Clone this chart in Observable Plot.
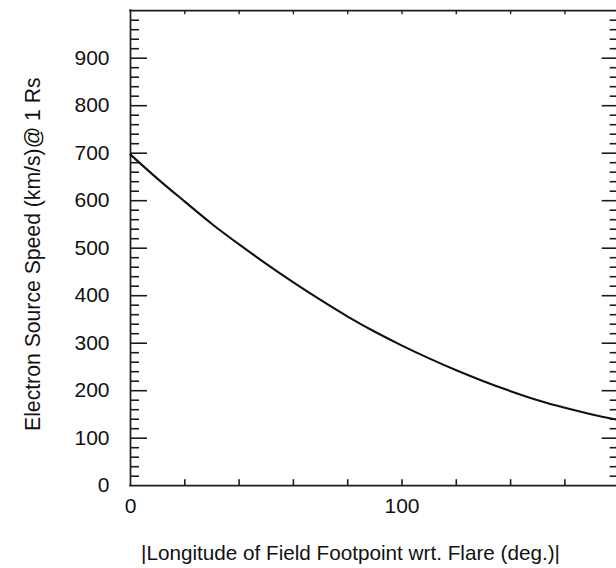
<!DOCTYPE html>
<html>
<head>
<meta charset="utf-8">
<script src="https://cdn.jsdelivr.net/npm/d3@7"></script>
<script src="https://cdn.jsdelivr.net/npm/@observablehq/plot@0.6"></script>
<style>
  html, body { margin: 0; padding: 0; background: #fff; overflow: hidden; }
</style>
</head>
<body>
<div id="chart"></div>
<script>
// Electron source speed at 1 Rs versus footpoint longitude offset from the flare
const longitude = [0, 10, 20, 30, 40, 50, 60, 70, 80, 90, 100, 110, 120, 130, 140, 150, 160, 170, 180];
const speed     = [697, 646, 598, 551, 508, 467, 428, 391, 356, 324, 295, 268, 243, 220, 199, 180, 164, 150, 138];

const yTickLabels = [0, 100, 200, 300, 400, 500, 600, 700, 800, 900];
const xTickLabels = [0, 100];
const xTicks = [20, 40, 60, 80, 100, 120, 140, 160];
const yMinorTicks = d3.range(20, 1000, 20).filter(v => v % 100 !== 0);
const yMajorTicks = [100, 200, 300, 400, 500, 600, 700, 800, 900];

const xTitle = "|Longitude of Field Footpoint wrt. Flare (deg.)|";
const yTitle = "Electron Source Speed (km/s)@ 1 Rs";

const W = 616, H = 568;
const plotLeft = 130, plotRight = 618.7, plotTop = 10.2, plotBottom = 485.2;
const xDomain = [0, 180], yDomain = [0, 1000];
const pxX = (plotRight - plotLeft) / (xDomain[1] - xDomain[0]);
const pxY = (plotBottom - plotTop) / (yDomain[1] - yDomain[0]);

const font = "'Liberation Sans', Arial, Helvetica, sans-serif";
const ink = "#111";
const axisInk = "#1c1c1c";

const data = longitude.map((x, i) => ({x, v: speed[i]}));

const chart = Plot.plot({
  width: W,
  height: H,
  marginLeft: plotLeft,
  marginRight: 0,
  marginTop: plotTop,
  marginBottom: H - plotBottom,
  style: {fontFamily: font, background: "#fff", overflow: "hidden"},
  x: {domain: xDomain, range: [plotLeft, plotRight], axis: null},
  y: {domain: yDomain, range: [plotBottom, plotTop], axis: null},
  marks: [
    // plot box
    Plot.ruleX(xDomain, {y1: yDomain[0], y2: yDomain[1], stroke: axisInk, strokeWidth: 1.7, strokeLinecap: "square"}),
    Plot.ruleY(yDomain, {x1: xDomain[0], x2: xDomain[1], stroke: axisInk, strokeWidth: 1.7, strokeLinecap: "square"}),
    // inward ticks on left and right sides
    Plot.ruleY(yMajorTicks, {x1: 0, x2: 17 / pxX, stroke: axisInk, strokeWidth: 1.6}),
    Plot.ruleY(yMinorTicks, {x1: 0, x2: 9 / pxX, stroke: axisInk, strokeWidth: 1.6}),
    Plot.ruleY(yMajorTicks, {x1: 180 - 17 / pxX, x2: 180, stroke: axisInk, strokeWidth: 1.6}),
    Plot.ruleY(yMinorTicks, {x1: 180 - 9 / pxX, x2: 180, stroke: axisInk, strokeWidth: 1.6}),
    // inward ticks on bottom and top
    Plot.ruleX(xTicks, {y1: 0, y2: 6 / pxY, stroke: axisInk, strokeWidth: 1.6}),
    Plot.ruleX(xTicks, {y1: 1000 - 4 / pxY, y2: 1000, stroke: axisInk, strokeWidth: 1.4}),
    // tick labels
    Plot.text(yTickLabels, {x: 0, y: d => d, text: d => String(d), dx: -21, textAnchor: "end", fontSize: 21, fill: ink}),
    Plot.text(xTickLabels, {x: d => d, y: 0, text: d => String(d), dy: 21, textAnchor: "middle", fontSize: 21, fill: ink}),
    // axis titles
    Plot.text([xTitle], {frameAnchor: "bottom", text: d => d, textAnchor: "middle", lineAnchor: "middle", dx: -23, dy: 68, fontSize: 20.7, fill: ink}),
    Plot.text([yTitle], {frameAnchor: "left", text: d => d, textAnchor: "middle", lineAnchor: "middle", rotate: -90, dx: -97, dy: 6, fontSize: 21.2, fill: ink}),
    // speed curve
    Plot.line(data, {x: "x", y: "v", curve: "natural", stroke: "#111", strokeWidth: 2.1})
  ]
});

document.getElementById("chart").appendChild(chart);
</script>
</body>
</html>
